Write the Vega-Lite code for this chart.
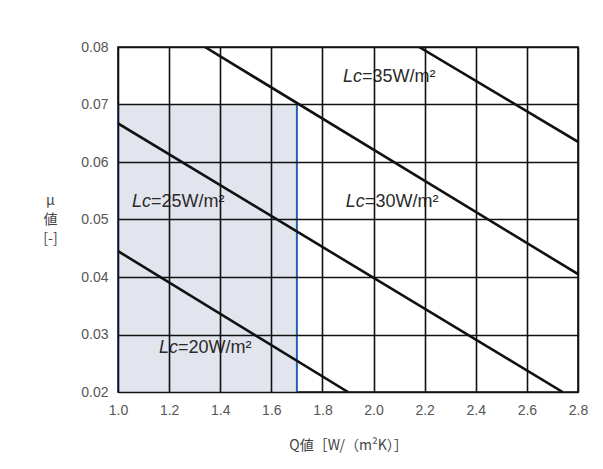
{
  "$schema": "https://vega.github.io/schema/vega-lite/v6.json",
  "width": 460,
  "height": 345,
  "autosize": {"type": "none"},
  "padding": {"left": 118, "top": 47, "right": 25, "bottom": 77},
  "background": "white",
  "config": {
    "view": {"stroke": "#111", "strokeWidth": 1.6},
    "axis": {
      "grid": true, "gridColor": "#111", "gridWidth": 1.6, "gridOpacity": 1,
      "domain": false, "ticks": false, "labelFlush": false,
      "labelFont": "Liberation Sans", "labelFontSize": 14, "labelColor": "#555",
      "titleFont": "Noto Sans CJK JP", "titleColor": "#444", "titleFontWeight": "normal"
    }
  },
  "datasets": {
    "region": [{"q": 1.0, "q2": 1.7, "mu": 0.02, "mu2": 0.07}],
    "edges": [{"q": 1.0, "mu": 0.02, "mu2": 0.07}, {"q": 1.7, "mu": 0.02, "mu2": 0.07}],
    "curves": [
      {"lc": "35a", "q": 2.178, "mu": 0.08}, {"lc": "35a", "q": 2.8, "mu": 0.0635},
      {"lc": "30b", "q": 1.34, "mu": 0.08}, {"lc": "30b", "q": 2.8, "mu": 0.0405},
      {"lc": "25c", "q": 1.0, "mu": 0.0667}, {"lc": "25c", "q": 2.74, "mu": 0.02},
      {"lc": "20d", "q": 1.0, "mu": 0.0445}, {"lc": "20d", "q": 1.9, "mu": 0.02}
    ],
    "labels": [
      {"q": 1.955, "mu": 0.0748, "rest": "=35W/m²"},
      {"q": 1.966, "mu": 0.053, "rest": "=30W/m²"},
      {"q": 1.129, "mu": 0.053, "rest": "=25W/m²"},
      {"q": 1.235, "mu": 0.0276, "rest": "=20W/m²"}
    ]
  },
  "encoding": {
    "x": {
      "field": "q", "type": "quantitative",
      "scale": {"domain": [1.0, 2.8], "nice": false, "zero": false},
      "axis": {
        "zindex": 1,
        "values": [1.0, 1.2, 1.4, 1.6, 1.8, 2.0, 2.2, 2.4, 2.6, 2.8],
        "format": ".1f", "labelPadding": 11, "labelFlush": false,
        "title": "Q値［W/（m²K）］", "titleFontSize": 14, "titleY": 53, "titleBaseline": "middle"
      }
    },
    "y": {
      "field": "mu", "type": "quantitative",
      "scale": {"domain": [0.02, 0.08], "nice": false, "zero": false},
      "axis": {
        "zindex": 1,
        "values": [0.02, 0.03, 0.04, 0.05, 0.06, 0.07, 0.08],
        "format": ".2f", "labelPadding": 10, "labelFlush": false,
        "title": ["μ", "値", "[-]"], "titleAngle": 0, "titleFontSize": 14,
        "titleX": -68, "titleY": 146, "titleBaseline": "top", "titleAlign": "center", "titleLineHeight": 19
      }
    }
  },
  "layer": [
    {
      "data": {"name": "region"},
      "mark": {"type": "rect", "fill": "#e2e4ee"},
      "encoding": {"x2": {"field": "q2"}, "y2": {"field": "mu2"}}
    },
    {
      "data": {"name": "edges"},
      "mark": {"type": "rule", "color": "#2462b0", "strokeWidth": 2},
      "encoding": {"y2": {"field": "mu2"}}
    },
    {
      "data": {"name": "curves"},
      "mark": {"type": "line", "color": "#111", "strokeWidth": 2.6, "clip": true},
      "encoding": {"detail": {"field": "lc"}}
    },
    {
      "data": {"name": "labels"},
      "mark": {"type": "text", "text": "Lc", "align": "right", "baseline": "middle", "font": "Liberation Sans", "fontSize": 18, "fontStyle": "italic", "color": "#2a2a2a"},
      "encoding": {}
    },
    {
      "data": {"name": "labels"},
      "mark": {"type": "text", "align": "left", "baseline": "middle", "font": "Liberation Sans", "fontSize": 18, "color": "#2a2a2a"},
      "encoding": {"text": {"field": "rest"}}
    }
  ]
}
